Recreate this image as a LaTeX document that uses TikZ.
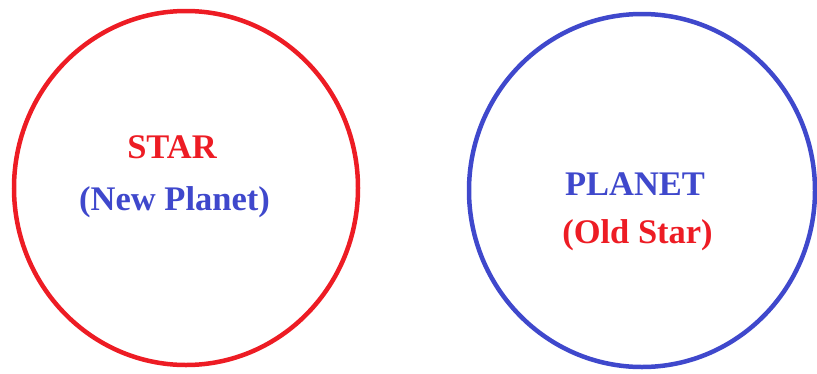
\documentclass[tikz,border=0pt]{standalone}
\usepackage{fontspec}
\setmainfont{Liberation Serif}
\definecolor{pred}{HTML}{ED1C24}
\definecolor{pblue}{HTML}{3F48CC}
\begin{document}
\begin{tikzpicture}[x=1pt,y=-1pt,
  ring/.style={line width=4.5pt},
  lbl/.style={anchor=base,inner sep=0pt,font=\fontsize{34.5}{40}\selectfont\bfseries}]
\useasboundingbox (0,0) rectangle (817,373);
\draw[ring,pred] (186,188) ellipse [x radius=172,y radius=177];
\draw[ring,pblue] (642,190.5) ellipse [x radius=173,y radius=176.5];
\node[lbl,text=pred] (star) at (172,158) {STAR};
\node[lbl,text=pblue] (newplanet) at (174.5,210) {(New Planet)};
\node[lbl,text=pblue] (planet) at (635,195) {PLANET};
\node[lbl,text=pred] (oldstar) at (637.5,243) {(Old Star)};
\end{tikzpicture}
\end{document}
